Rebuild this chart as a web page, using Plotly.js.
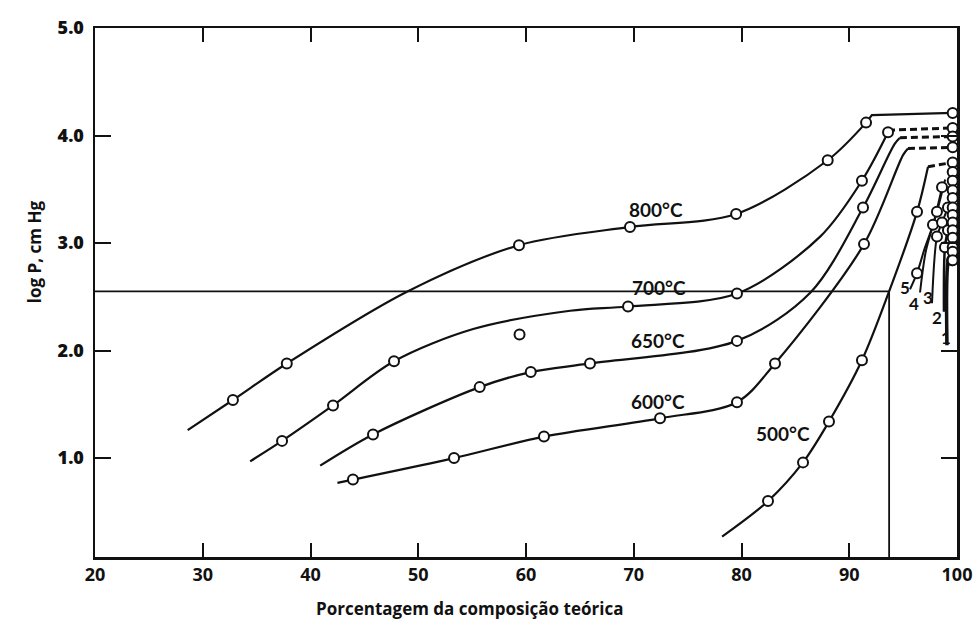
<!DOCTYPE html>
<html>
<head>
<meta charset="utf-8">
<script src="https://cdn.plot.ly/plotly-3.0.1.min.js"></script>
<style>html,body{margin:0;padding:0;background:#fff;}#chart{width:973px;height:622px;}</style>
</head>
<body>
<div id="chart"></div>
<script>
// ---- Data ----
const xTicks = [20, 30, 40, 50, 60, 70, 80, 90, 100];
const xTickText = ["20", "30", "40", "50", "60", "70", "80", "90", "100"];
const yTicks = [1, 2, 3, 4, 5];
const yTickText = ["1.0", "2.0", "3.0", "4.0", "5.0"];

// 800 °C
const c800PathX = [28.6, 32.8, 37.8, 49.0, 59.35, 69.65, 79.5, 88.0, 91.56];
const c800PathY = [1.26, 1.54, 1.88, 2.55, 2.98, 3.15, 3.27, 3.77, 4.12];
const c800TopX = [91.56, 92.1, 99.6];
const c800TopY = [4.12, 4.19, 4.21];
const c800PtsX = [32.8, 37.8, 59.35, 69.65, 79.5, 88.0, 91.56];
const c800PtsY = [1.54, 1.88, 2.98, 3.15, 3.27, 3.77, 4.12];

// 700 °C
const c700PathX = [34.4, 37.36, 42.09, 47.75, 55.1, 64.1, 69.47, 79.58, 87.3, 91.18, 93.6];
const c700PathY = [0.97, 1.16, 1.49, 1.90, 2.20, 2.37, 2.41, 2.53, 3.06, 3.58, 4.03];
const c700PtsX = [37.36, 42.09, 47.75, 69.47, 79.58, 91.18, 93.6];
const c700PtsY = [1.16, 1.49, 1.90, 2.41, 2.53, 3.58, 4.03];
const c700DashX = [93.6, 99.6];
const c700DashY = [4.05, 4.07];

// 650 °C
const c650PathX = [40.9, 45.8, 55.7, 60.44, 65.94, 79.58, 86.4, 91.28, 94.2, 94.7];
const c650PathY = [0.93, 1.22, 1.66, 1.80, 1.88, 2.09, 2.54, 3.33, 3.92, 3.98];
const c650PtsX = [45.8, 55.7, 60.44, 65.94, 79.58, 91.28];
const c650PtsY = [1.22, 1.66, 1.80, 1.88, 2.09, 3.33];
const c650DashX = [94.7, 99.6];
const c650DashY = [3.98, 3.99];

// 600 °C
const c600PathX = [42.5, 43.94, 53.32, 61.67, 72.44, 79.58, 83.11, 91.37, 95.0, 95.45];
const c600PathY = [0.77, 0.80, 1.00, 1.20, 1.37, 1.52, 1.88, 2.99, 3.82, 3.88];
const c600PtsX = [43.94, 53.32, 61.67, 72.44, 79.58, 83.11, 91.37];
const c600PtsY = [0.80, 1.00, 1.20, 1.37, 1.52, 1.88, 2.99];
const c600DashX = [95.45, 99.6];
const c600DashY = [3.88, 3.89];

// 500 °C
const c500PathX = [78.2, 82.46, 85.71, 88.12, 91.18, 93.7, 96.29, 97.31];
const c500PathY = [0.27, 0.60, 0.96, 1.34, 1.91, 2.55, 3.29, 3.71];
const c500PtsX = [82.46, 85.71, 88.12, 91.18, 96.29];
const c500PtsY = [0.60, 0.96, 1.34, 1.91, 3.29];
const c500DashX = [97.31, 99.6];
const c500DashY = [3.71, 3.75];

// Short curves 1-5 near 100 %
const s5X = [95.64, 96.29, 97.0, 97.77, 98.61];
const s5Y = [2.57, 2.72, 2.95, 3.17, 3.52];
const s4X = [96.57, 97.12, 98.14, 98.9];
const s4Y = [2.54, 2.93, 3.29, 3.59];
const s3X = [97.68, 98.14, 98.61, 99.16];
const s3Y = [2.44, 3.06, 3.19, 3.33];
const s2X = [98.79, 98.88, 99.16];
const s2Y = [2.36, 2.96, 3.12];
const s1X = [99.07, 99.16, 99.5];
const s1Y = [2.05, 2.82, 2.93];
const clusterX = [96.29, 98.61, 98.14, 99.16, 97.77, 98.61, 99.16, 98.14, 98.88, 99.54];
const clusterY = [2.72, 3.52, 3.29, 3.33, 3.17, 3.19, 3.12, 3.06, 2.96, 2.84];

// Column of points at ~100 %
const colX = [99.6, 99.6, 99.6, 99.6, 99.6, 99.6, 99.6, 99.6, 99.6, 99.6, 99.6, 99.6, 99.6, 99.6, 99.6, 99.6, 99.6];
const colY = [4.21, 4.07, 3.99, 3.89, 3.75, 3.66, 3.58, 3.49, 3.42, 3.33, 3.26, 3.19, 3.12, 3.05, 2.96, 2.92, 2.84];

// Isolated point
const isoX = [59.4];
const isoY = [2.15];

// Reference lines
const refHX = [20, 93.7];
const refHY = [2.55, 2.55];
const refVX = [93.7, 93.7];
const refVY = [0.08, 2.55];

// Labels
const labelText = ["800°C", "700°C", "650°C", "600°C", "500°C"];
const labelX = [72.1, 72.35, 72.25, 72.25, 83.85];
const labelY = [3.31, 2.59, 2.09, 1.53, 1.23];
const numText = ["5", "4", "3", "2", "1"];
const numX = [95.2, 96.0, 97.3, 98.1, 99.0];
const numY = [2.59, 2.44, 2.49, 2.31, 2.12];

// ---- Drawing ----
const K = '#111';
function path(x, y, w, dash) {
  return {x: x, y: y, mode: 'lines', type: 'scatter', hoverinfo: 'skip',
    line: {color: K, width: w || 2.2, shape: 'spline', smoothing: 0.9, dash: dash || 'solid'}};
}
function straight(x, y, w, dash) {
  return {x: x, y: y, mode: 'lines', type: 'scatter', hoverinfo: 'skip',
    line: {color: K, width: w || 2.2, dash: dash || 'solid'}};
}
function pts(x, y) {
  return {x: x, y: y, mode: 'markers', type: 'scatter', hoverinfo: 'skip',
    marker: {symbol: 'circle', size: 10, color: '#fff', line: {color: K, width: 2}}};
}

const traces = [
  straight(refHX, refHY, 1.8),
  straight(refVX, refVY, 1.8),
  path(c800PathX, c800PathY),
  straight(c800TopX, c800TopY),
  path(c700PathX, c700PathY),
  straight(c700DashX, c700DashY, 3, '7px,4px'),
  path(c650PathX, c650PathY),
  straight(c650DashX, c650DashY, 3, '7px,4px'),
  path(c600PathX, c600PathY),
  straight(c600DashX, c600DashY, 3, '7px,4px'),
  path(c500PathX, c500PathY),
  straight(c500DashX, c500DashY, 3, '7px,4px'),
  path(s5X, s5Y, 2), path(s4X, s4Y, 2), path(s3X, s3Y, 2), path(s2X, s2Y, 2.5), path(s1X, s1Y, 3.5),
  pts(c800PtsX, c800PtsY), pts(c700PtsX, c700PtsY), pts(c650PtsX, c650PtsY),
  pts(c600PtsX, c600PtsY), pts(c500PtsX, c500PtsY),
  pts(clusterX, clusterY), pts(colX, colY), pts(isoX, isoY)
];

const annotations = [];
for (let i = 0; i < labelText.length; i++) {
  annotations.push({x: labelX[i], y: labelY[i], xref: 'x', yref: 'y', text: labelText[i],
    showarrow: false, font: {family: 'Lato, "Open Sans", sans-serif', size: 19, color: K, weight: 700}});
}
for (let i = 0; i < numText.length; i++) {
  annotations.push({x: numX[i], y: numY[i], xref: 'x', yref: 'y', text: numText[i],
    showarrow: false, font: {family: 'Lato, sans-serif', size: 17, color: K, weight: 700}});
}
annotations.push({x: 0.435, y: -0.097, xref: 'paper', yref: 'paper', yanchor: 'middle', xanchor: 'center',
  text: 'Porcentagem da composição teórica', showarrow: false,
  font: {family: '"Liberation Sans Narrow", "Open Sans", sans-serif', size: 17, color: K, weight: 700}});
annotations.push({x: -0.086, y: 0.577, xref: 'paper', yref: 'paper', textangle: -90,
  text: 'log P, cm Hg', showarrow: false,
  font: {family: '"Open Sans", sans-serif', size: 17, color: K, weight: 700}});

const layout = {
  width: 973, height: 622,
  margin: {l: 95, r: 16, t: 28, b: 65},
  paper_bgcolor: '#fff', plot_bgcolor: '#fff',
  showlegend: false,
  xaxis: {range: [20, 100], tickvals: xTicks, ticktext: xTickText, ticks: 'inside', ticklen: 14,
    tickwidth: 2, tickcolor: K, showline: true, linecolor: K, linewidth: 2.5, mirror: 'ticks',
    showgrid: false, zeroline: false,
    tickfont: {family: '"Liberation Sans Narrow", "Open Sans", sans-serif', size: 18, color: K, weight: 700}},
  yaxis: {range: [0.08, 5.0], tickvals: yTicks, ticktext: yTickText, ticks: 'inside', ticklen: 16,
    tickwidth: 2, tickcolor: K, showline: true, linecolor: K, linewidth: 2.5, mirror: 'ticks',
    showgrid: false, zeroline: false, ticklabelstandoff: 5,
    tickfont: {family: '"Open Sans", sans-serif', size: 18, color: K, weight: 800}},
  annotations: annotations
};

Plotly.newPlot('chart', traces, layout, {displayModeBar: false, staticPlot: true});
</script>
</body>
</html>
